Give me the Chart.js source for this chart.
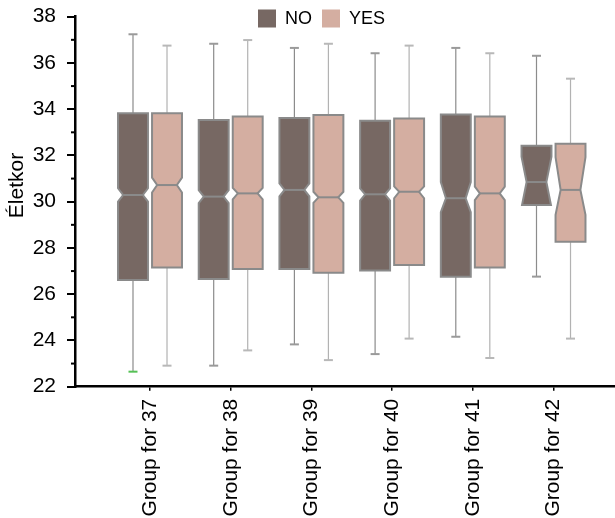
<!DOCTYPE html>
<html><head><meta charset="utf-8">
<script src="https://cdn.jsdelivr.net/npm/chart.js@4.4.0/dist/chart.umd.min.js"></script>
<style>html,body{margin:0;padding:0;background:#fff}#wrap{width:615px;height:518px;position:relative}</style>
</head><body><div id="wrap"><canvas id="c"></canvas></div>
<script>
const categories = ['Group for 37','Group for 38','Group for 39','Group for 40','Group for 41','Group for 42'];
const seriesNames = ['NO','YES'];
const yTitle = 'Életkor';
const yTickMin = 22, yTickMax = 38, yTickStep = 2;

const noMin     = [22.65, 22.91, 23.83, 23.41, 24.16, 26.76];
const noQ1      = [26.61, 26.66, 27.09, 27.02, 26.76, 29.86];
const noMed     = [30.29, 30.22, 30.51, 30.32, 30.15, 30.85];
const noQ3      = [33.82, 33.53, 33.62, 33.50, 33.77, 32.42];
const noMax     = [37.24, 36.83, 36.65, 36.42, 36.65, 36.31];
const noNotchLo = [30.00, 29.94, 30.23, 30.05, 29.55, 29.75];
const noNotchHi = [30.58, 30.50, 30.79, 30.58, 30.85, 31.95];

const yesMin     = [22.91, 23.57, 23.15, 24.08, 23.24, 24.08];
const yesQ1      = [27.16, 27.09, 26.93, 27.26, 27.16, 28.27];
const yesMed     = [30.72, 30.36, 30.19, 30.43, 30.36, 30.51];
const yesQ3      = [33.82, 33.68, 33.75, 33.60, 33.68, 32.51];
const yesMax     = [36.75, 36.99, 36.83, 36.75, 36.42, 35.32];
const yesNotchLo = [30.40, 30.10, 29.95, 30.15, 30.07, 29.43];
const yesNotchHi = [31.04, 30.60, 30.43, 30.66, 30.65, 31.93];

const FONT = "'Liberation Sans', Arial, sans-serif";

function pts(q1, q3) { return categories.map((c, i) => ({x: i + 1, y: [q1[i], q3[i]]})); }

const data = {
  datasets: [
    { label: seriesNames[0], data: pts(noQ1, noQ3), backgroundColor: '#776863',
      stats: {min: noMin, q1: noQ1, med: noMed, q3: noQ3, max: noMax, nlo: noNotchLo, nhi: noNotchHi},
      whiskerColor: '#8c8c8c', capColor: '#9a9a9a', lowCapColor: (i) => i === 0 ? '#55c155' : '#9a9a9a' },
    { label: seriesNames[1], data: pts(yesQ1, yesQ3), backgroundColor: '#d4aea1',
      stats: {min: yesMin, q1: yesQ1, med: yesMed, q3: yesQ3, max: yesMax, nlo: yesNotchLo, nhi: yesNotchHi},
      whiskerColor: '#b2b2b2', capColor: '#b8b8b8', lowCapColor: () => '#b8b8b8' }
  ]
};

const NOTCH_RATIO = 0.66;

const boxPlugin = {
  id: 'notchedBoxes',
  beforeDatasetDraw() { return false; },
  afterDatasetsDraw(chart) {
    const ctx = chart.ctx, ys = chart.scales.y;
    chart.data.datasets.forEach((ds, di) => {
      const meta = chart.getDatasetMeta(di);
      meta.data.forEach((bar, i) => {
        const s = ds.stats;
        const cx = bar.x, h = bar.width / 2;
        const pMin = ys.getPixelForValue(s.min[i]), pMax = ys.getPixelForValue(s.max[i]);
        const pQ1 = ys.getPixelForValue(s.q1[i]), pQ3 = ys.getPixelForValue(s.q3[i]);
        const pMed = ys.getPixelForValue(s.med[i]);
        const pHi = ys.getPixelForValue(s.nhi[i]), pLo = ys.getPixelForValue(s.nlo[i]);
        ctx.save();
        ctx.strokeStyle = ds.whiskerColor; ctx.lineWidth = 1.2;
        ctx.beginPath();
        ctx.moveTo(cx, pQ3); ctx.lineTo(cx, pMax);
        ctx.moveTo(cx, pQ1); ctx.lineTo(cx, pMin);
        ctx.stroke();
        ctx.lineWidth = 2;
        ctx.strokeStyle = ds.capColor;
        ctx.beginPath(); ctx.moveTo(cx - 4.5, pMax); ctx.lineTo(cx + 4.5, pMax); ctx.stroke();
        ctx.strokeStyle = ds.lowCapColor(i);
        ctx.beginPath(); ctx.moveTo(cx - 4.5, pMin); ctx.lineTo(cx + 4.5, pMin); ctx.stroke();
        const k = NOTCH_RATIO;
        let topY, topW, botY, botW;
        if (pHi <= pQ3) { topY = pQ3; topW = k + (1 - k) * (pMed - pQ3) / (pMed - pHi); }
        else { topY = pHi; topW = 1; }
        if (pLo >= pQ1) { botY = pQ1; botW = k + (1 - k) * (pQ1 - pMed) / (pLo - pMed); }
        else { botY = pLo; botW = 1; }
        const topCornerW = pHi <= pQ3 ? topW : 1;
        const botCornerW = pLo >= pQ1 ? botW : 1;
        ctx.beginPath();
        ctx.moveTo(cx - h * topCornerW, pQ3);
        ctx.lineTo(cx + h * topCornerW, pQ3);
        ctx.lineTo(cx + h * topW, topY);
        ctx.lineTo(cx + h * k, pMed);
        ctx.lineTo(cx + h * botW, botY);
        ctx.lineTo(cx + h * botCornerW, pQ1);
        ctx.lineTo(cx - h * botCornerW, pQ1);
        ctx.lineTo(cx - h * botW, botY);
        ctx.lineTo(cx - h * k, pMed);
        ctx.lineTo(cx - h * topW, topY);
        ctx.closePath();
        ctx.fillStyle = ds.backgroundColor;
        ctx.fill();
        ctx.lineWidth = 2; ctx.lineJoin = 'miter'; ctx.strokeStyle = '#8a8a8a';
        ctx.stroke();
        ctx.beginPath(); ctx.moveTo(cx - h * k, pMed); ctx.lineTo(cx + h * k, pMed); ctx.stroke();
        ctx.restore();
      });
    });
  }
};

const minorTicks = {
  id: 'minorTicks',
  afterDraw(chart) {
    const ys = chart.scales.y, ctx = chart.ctx, left = chart.chartArea.left;
    const t = ys.ticks;
    ctx.save(); ctx.strokeStyle = '#000'; ctx.lineWidth = 2;
    for (let j = 0; j < t.length - 1; j++) {
      const p = ys.getPixelForValue((t[j].value + t[j + 1].value) / 2);
      ctx.beginPath(); ctx.moveTo(left - 4, p); ctx.lineTo(left, p); ctx.stroke();
    }
    ctx.restore();
  }
};

const yAxisTitle = {
  id: 'yAxisTitle',
  afterDraw(chart) {
    const ctx = chart.ctx, ys = chart.scales.y;
    ctx.save();
    ctx.font = '21px ' + FONT; ctx.fillStyle = '#000';
    ctx.textAlign = 'center'; ctx.textBaseline = 'middle';
    ctx.translate(ys.left + 17, ys.getPixelForValue(30.7));
    ctx.rotate(-Math.PI / 2);
    ctx.fillText(yTitle, 0, 0);
    ctx.restore();
  }
};

const customLegend = {
  id: 'customLegend',
  afterDraw(chart) {
    const ctx = chart.ctx;
    ctx.save();
    ctx.font = '18px ' + FONT; ctx.textBaseline = 'middle'; ctx.fillStyle = '#000';
    let x = 258; const y = 9.5, box = 18;
    chart.data.datasets.forEach(ds => {
      ctx.fillStyle = ds.backgroundColor; ctx.fillRect(x, y, box, box);
      ctx.fillStyle = '#000'; ctx.fillText(ds.label, x + box + 9, y + box / 2 + 1);
      x += box + 9 + ctx.measureText(ds.label).width + 10;
    });
    ctx.restore();
  }
};

new Chart(document.getElementById('c'), {
  type: 'bar',
  data,
  plugins: [boxPlugin, minorTicks, yAxisTitle, customLegend],
  options: {
    responsive: true, maintainAspectRatio: false, animation: false,
    layout: {padding: {top: 16.7, left: 0, right: 0, bottom: 0}},
    datasets: {bar: {categoryPercentage: 0.843, barPercentage: 0.88}},
    plugins: {legend: {display: false}, tooltip: {enabled: false}},
    scales: {
      x: {
        type: 'linear', min: 0.0706, max: 6.762, offset: false,
        afterBuildTicks: (sc) => { sc.ticks = categories.map((c, i) => ({value: i + 1})); },
        afterFit: (sc) => { sc.height = 131.3; sc.paddingLeft = 0; sc.paddingRight = 0; },
        grid: {drawOnChartArea: false, offset: false, color: '#000', lineWidth: 1.5, tickLength: 4},
        border: {color: '#000', width: 2.5},
        ticks: {autoSkip: false, maxRotation: 90, minRotation: 90, padding: 8, color: '#000',
          font: {family: FONT, size: 21},
          callback: (v) => categories[Math.round(v) - 1] || ''}
      },
      y: {
        min: yTickMin, max: yTickMax,
        afterFit: (sc) => { sc.width = 75; sc.paddingTop = 8; sc.paddingBottom = 8; },
        grid: {drawOnChartArea: false, color: '#000', lineWidth: 2, tickLength: 8},
        border: {color: '#000', width: 2.5},
        ticks: {stepSize: yTickStep, padding: 11, color: '#000', font: {family: FONT, size: 21}},
        title: {display: false}
      }
    }
  }
});
</script></body></html>
